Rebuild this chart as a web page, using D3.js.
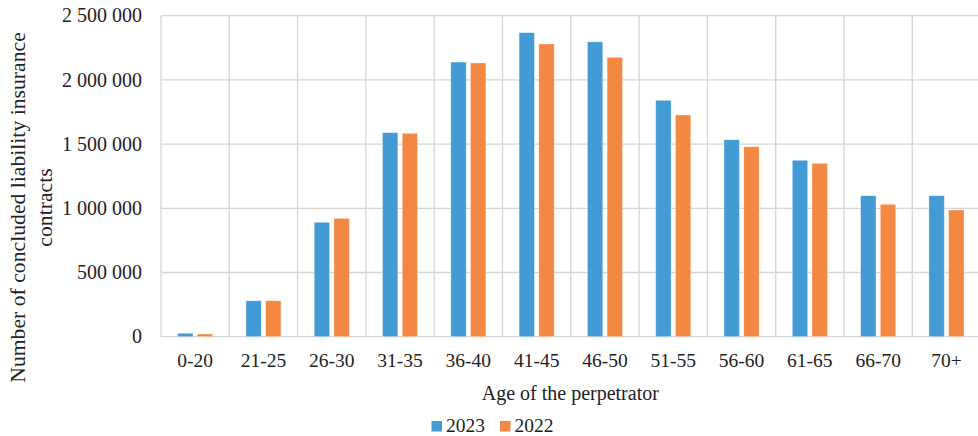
<!DOCTYPE html>
<html>
<head>
<meta charset="utf-8">
<script src="https://cdn.jsdelivr.net/npm/d3@7"></script>
<style>
  html, body { margin: 0; padding: 0; background: #fff; }
  svg { display: block; }
  text { font-family: "Liberation Serif", "Times New Roman", serif; fill: #222; }
</style>
</head>
<body>
<svg id="chart" width="978" height="436"></svg>
<script>
// Concluded liability insurance contracts by age group of the perpetrator
const ageGroups = ["0-20", "21-25", "26-30", "31-35", "36-40", "41-45", "46-50", "51-55", "56-60", "61-65", "66-70", "70+"];
const years = ["2023", "2022"];
const values2023 = [27000, 280000, 891000, 1589000, 2139000, 2368000, 2297000, 1841000, 1534000, 1374000, 1098000, 1098000];
const values2022 = [21000, 280000, 922000, 1584000, 2132000, 2280000, 2176000, 1727000, 1480000, 1350000, 1031000, 987000];
const yTicks = [0, 500000, 1000000, 1500000, 2000000, 2500000];
const colors = { "2023": "#439bd6", "2022": "#f38843" };

const svg = d3.select("#chart");
const plotLeft = 161, plotRight = 980.6, plotTop = 15.7, plotBottom = 336.7;

const x = d3.scaleBand().domain(ageGroups).range([plotLeft, plotRight]).paddingInner(0).paddingOuter(0);
const inner = d3.scaleBand().domain(years).range([16.6, x.bandwidth() - 16.6]).paddingInner(0.22);
const y = d3.scaleLinear().domain([0, 2500000]).range([plotBottom, plotTop]);

const fmt = v => d3.format(",")(v).replace(/,/g, " ");
const grid = "#d6d6d6";

// horizontal gridlines
svg.append("g").selectAll("line").data(yTicks).join("line")
  .attr("x1", plotLeft).attr("x2", 978)
  .attr("y1", d => y(d)).attr("y2", d => y(d))
  .attr("stroke", grid).attr("stroke-width", 1.3);

// vertical category separators
svg.append("g").selectAll("line").data(ageGroups).join("line")
  .attr("x1", d => x(d)).attr("x2", d => x(d))
  .attr("y1", plotTop).attr("y2", plotBottom)
  .attr("stroke", grid).attr("stroke-width", 1.3);

// y tick labels
svg.append("g").selectAll("text").data(yTicks).join("text")
  .attr("x", 142).attr("y", d => y(d)).attr("dy", "0.33em")
  .attr("text-anchor", "end").attr("font-size", 20)
  .text(fmt);

// bars
const rows = ageGroups.map((g, i) => ({ group: g, "2023": values2023[i], "2022": values2022[i] }));
const groups = svg.append("g").selectAll("g").data(rows).join("g")
  .attr("transform", d => `translate(${x(d.group)},0)`);
groups.selectAll("rect").data(d => years.map(k => ({ key: k, value: d[k] }))).join("rect")
  .attr("x", d => inner(d.key))
  .attr("width", inner.bandwidth())
  .attr("y", d => y(d.value))
  .attr("height", d => y(0) - y(d.value))
  .attr("fill", d => colors[d.key])
  .attr("stroke", "#ffffff").attr("stroke-opacity", 0.45).attr("stroke-width", 0.8);

// x tick labels
svg.append("g").selectAll("text").data(ageGroups).join("text")
  .attr("x", d => x(d) + x.bandwidth() / 2).attr("y", 367)
  .attr("text-anchor", "middle").attr("font-size", 19.5)
  .text(d => d);

// axis titles
svg.append("text").attr("x", plotLeft + (plotRight - plotLeft) / 2 - 0.5).attr("y", 400)
  .attr("text-anchor", "middle").attr("font-size", 20)
  .text("Age of the perpetrator");

const yTitle = svg.append("text").attr("text-anchor", "middle").attr("font-size", 21.7)
  .attr("transform", "translate(25,207.5) rotate(-90)");
yTitle.append("tspan").attr("x", 0).attr("dy", 0).text("Number of concluded liability insurance");
yTitle.append("tspan").attr("x", 0).attr("dy", 27).text("contracts");

// legend
const legend = svg.append("g");
const legendItems = [{ key: "2023", x: 431.5 }, { key: "2022", x: 500 }];
legend.selectAll("rect").data(legendItems).join("rect")
  .attr("x", d => d.x).attr("y", 421).attr("width", 10.5).attr("height", 10.5)
  .attr("fill", d => colors[d.key]);
legend.selectAll("text").data(legendItems).join("text")
  .attr("x", d => d.x + 14.5).attr("y", 431.5).attr("font-size", 19.5)
  .text(d => d.key);
</script>
</body>
</html>
